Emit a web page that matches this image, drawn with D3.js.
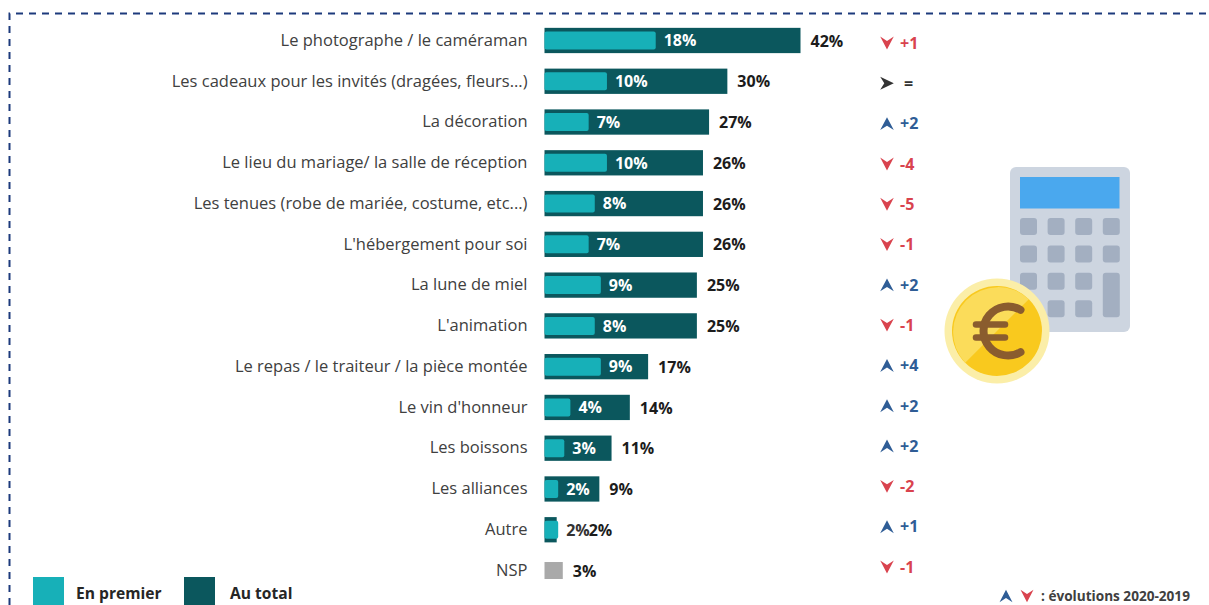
<!DOCTYPE html>
<html>
<head>
<meta charset="utf-8">
<script src="https://cdn.jsdelivr.net/npm/d3@7"></script>
<style>
    html, body { margin: 0; padding: 0; background: #fff; overflow: hidden; }
    text { font-family: "Open Sans", sans-serif; }
</style>
</head>
<body>
<script>
const categories = [
    "Le photographe / le caméraman",
    "Les cadeaux pour les invités (dragées, fleurs...)",
    "La décoration",
    "Le lieu du mariage/ la salle de réception",
    "Les tenues (robe de mariée, costume, etc...)",
    "L'hébergement pour soi",
    "La lune de miel",
    "L'animation",
    "Le repas / le traiteur / la pièce montée",
    "Le vin d'honneur",
    "Les boissons",
    "Les alliances",
    "Autre",
    "NSP"
];
const enPremier = [18, 10, 7, 10, 8, 7, 9, 8, 9, 4, 3, 2, 2, null];
const auTotal = [42, 30, 27, 26, 26, 26, 25, 25, 17, 14, 11, 9, 2, 3];
const evolutions = ["+1", "=", "+2", "-4", "-5", "-1", "+2", "-1", "+4", "+2", "+2", "-2", "+1", "-1"];
const directions = ["down", "same", "up", "down", "down", "down", "up", "down", "up", "up", "up", "down", "up", "down"];

const TEAL = "#17b0b8", DARK = "#0b575d", GREY = "#a9a9a9";
const RED = "#d9434e", BLUE = "#2f5d96", NEUTRAL = "#333333", NAVY = "#1d3a7c";
const evoColor = { up: BLUE, down: RED, same: NEUTRAL };

const w = 1209, h = 605;

const svg = d3.select("body").append("svg")
    .attr("width", w)
    .attr("height", h);

// dashed frame, open on the right and at the bottom
svg.append("path")
    .attr("d", d3.line()([[9.5, h], [9.5, 13.5], [w, 13.5]]))
    .attr("fill", "none")
    .attr("stroke", NAVY)
    .attr("stroke-width", 2)
    .attr("stroke-dasharray", "7 6");

const x = d3.scaleLinear()
    .domain([0, 42])
    .range([544.5, 800.5]);

const y = d3.scaleBand()
    .domain(categories)
    .range([20.1, 590.9])
    .paddingInner(0.38)
    .paddingOuter(0.19);

// the evolution column sits on a slightly tighter spacing than the bars
const yEvo = d3.scalePoint()
    .domain(categories)
    .range([43, 567]);

const rows = categories.map(function (c, i) {
    return { name: c, first: enPremier[i], total: auTotal[i], evo: evolutions[i], dir: directions[i] };
});

// category labels
const yAxis = svg.append("g")
    .attr("transform", "translate(" + x(0) + ",0)")
    .call(d3.axisLeft(y).tickSize(0).tickPadding(17));
yAxis.select(".domain").remove();
yAxis.selectAll("text")
    .attr("font-size", 16.5)
    .style("font-family", '"Open Sans", sans-serif')
    .attr("fill", "#404040");

const row = svg.selectAll("g.row")
    .data(rows)
    .enter().append("g")
    .attr("class", "row")
    .attr("transform", function (d) { return "translate(0," + (y(d.name) + y.bandwidth() / 2) + ")"; });

// total bars (NSP is thinner and grey)
row.append("rect")
    .attr("x", x(0))
    .attr("y", function (d) { return d.first === null ? -8.5 : -y.bandwidth() / 2; })
    .attr("width", function (d) { return x(d.total) - x(0); })
    .attr("height", function (d) { return d.first === null ? 17 : y.bandwidth(); })
    .attr("fill", function (d) { return d.first === null ? GREY : DARK; });

const withFirst = row.filter(function (d) { return d.first !== null; });

withFirst.append("rect")
    .attr("x", x(0))
    .attr("y", -9)
    .attr("width", function (d) { return x(d.first) - x(0) + 1.5; })
    .attr("height", 18)
    .attr("rx", 2)
    .attr("fill", TEAL);

withFirst.append("text")
    .attr("x", function (d) { return x(d.first) + 9.5; })
    .attr("dy", "0.36em")
    .attr("font-size", 16)
    .attr("font-weight", 700)
    .attr("fill", function (d) { return d.first === d.total ? "#333333" : "#ffffff"; })
    .text(function (d) { return d.first + "%"; });

row.append("text")
    .attr("x", function (d) { return x(d.total) + (d.first === d.total ? 32 : 10); })
    .attr("dy", "0.38em")
    .attr("font-size", 16)
    .attr("font-weight", 700)
    .attr("fill", "#1c1c1c")
    .text(function (d) { return d.total + "%"; });

// evolution arrows and values
function arrow(sel, cx, size) {
    sel.append("path")
        .attr("d", function (d) {
            const s = size, t = s * 0.95;
            if (d.dir === "up") return "M" + (cx - s) + "," + t + "L" + cx + "," + (-t) + "L" + (cx + s) + "," + t + "L" + cx + "," + (s * 0.3) + "Z";
            if (d.dir === "down") return "M" + (cx - s) + "," + (-t) + "L" + cx + "," + t + "L" + (cx + s) + "," + (-t) + "L" + cx + "," + (-s * 0.3) + "Z";
            return "M" + (cx - s) + "," + (-t) + "L" + (cx + s) + ",0L" + (cx - s) + "," + t + "L" + (cx - s * 0.4) + ",0Z";
        })
        .attr("fill", function (d) { return evoColor[d.dir]; });
}

const evo = svg.selectAll("g.evo")
    .data(rows)
    .enter().append("g")
    .attr("class", "evo")
    .attr("transform", function (d) { return "translate(0," + yEvo(d.name) + ")"; });
arrow(evo, 887, 6.8);
evo.append("text")
    .attr("x", function (d) { return d.dir === "same" ? 904 : 900; })
    .attr("dy", "0.36em")
    .attr("font-size", 16)
    .attr("font-weight", 700)
    .attr("fill", function (d) { return evoColor[d.dir]; })
    .text(function (d) { return d.evo; });

// legend
const legendItems = [
    { label: "En premier", color: TEAL, x: 33, tx: 76 },
    { label: "Au total", color: DARK, x: 184, tx: 230 }
];
const legend = svg.selectAll("g.legend")
    .data(legendItems)
    .enter().append("g")
    .attr("class", "legend");
legend.append("rect")
    .attr("x", function (d) { return d.x; })
    .attr("y", 577)
    .attr("width", 31)
    .attr("height", 28)
    .attr("fill", function (d) { return d.color; });
legend.append("text")
    .attr("x", function (d) { return d.tx; })
    .attr("y", 599)
    .attr("font-size", 15.6)
    .attr("font-weight", 700)
    .attr("fill", "#262626")
    .text(function (d) { return d.label; });

// note at the bottom right
const note = svg.append("g").attr("transform", "translate(0,596)");
arrow(note.selectAll("g.n").data([{ dir: "up" }]).enter().append("g").attr("class", "n"), 1006, 6.5);
arrow(note.selectAll("g.m").data([{ dir: "down" }]).enter().append("g").attr("class", "m"), 1027, 6.5);
note.append("text")
    .attr("x", 1041)
    .attr("dy", "0.38em")
    .attr("font-size", 13.6)
    .attr("font-weight", 700)
    .attr("fill", "#404040")
    .text(": évolutions 2020-2019");

// calculator icon
const calc = svg.append("g");
calc.append("rect")
    .attr("x", 1010).attr("y", 167)
    .attr("width", 120).attr("height", 165)
    .attr("rx", 6)
    .attr("fill", "#cdd5e0");
calc.append("rect")
    .attr("x", 1020).attr("y", 177)
    .attr("width", 99.5).attr("height", 31.5)
    .attr("fill", "#4aa8ee");

const keyCols = d3.range(4), keyRows = d3.range(4);
keyRows.forEach(function (r) {
    keyCols.forEach(function (c) {
        if (r === 3 && c === 3) return;
        calc.append("rect")
            .attr("x", 1020 + c * 27.6).attr("y", 218 + r * 27.4)
            .attr("width", 17)
            .attr("height", r === 2 && c === 3 ? 44.5 : 17)
            .attr("rx", 3)
            .attr("fill", "#a3afc1");
    });
});

// coin
const coin = svg.append("g").attr("transform", "translate(997,331)");
coin.append("circle").attr("r", 52.5).attr("fill", "#fbeea8");
coin.append("circle").attr("r", 45).attr("fill", "#f9c91e");
coin.append("path")
    .attr("d", "M" + (-31.8) + "," + 31.8 + "A45,45 0 0 1 " + 31.8 + "," + (-31.8) + "Z")
    .attr("fill", "#fbdc5a");
coin.append("path")
    .attr("d", "M" + (11 + 24.5 * Math.cos(-Math.PI * 0.33)) + "," + (24.5 * Math.sin(-Math.PI * 0.33)) +
        "A24.5,24.5 0 1 0 " + (11 + 24.5 * Math.cos(Math.PI * 0.33)) + "," + (24.5 * Math.sin(Math.PI * 0.33)))
    .attr("fill", "none")
    .attr("stroke", "#8a5c2e")
    .attr("stroke-width", 8)
    .attr("stroke-linecap", "round");
[-6.5, 6.5].forEach(function (dy) {
    coin.append("line")
        .attr("x1", -21).attr("x2", 8)
        .attr("y1", dy).attr("y2", dy)
        .attr("stroke", "#8a5c2e")
        .attr("stroke-width", 6.5)
        .attr("stroke-linecap", "round");
});
</script>
</body>
</html>
